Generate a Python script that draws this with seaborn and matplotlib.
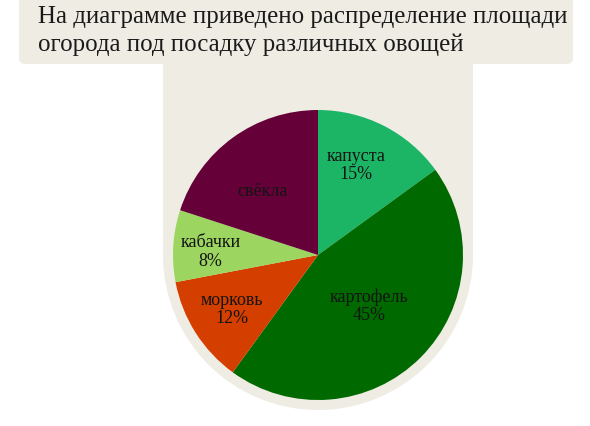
import matplotlib
matplotlib.use("Agg")
import matplotlib.pyplot as plt
import seaborn as sns
import numpy as np
from matplotlib.patches import Rectangle, Circle, FancyBboxPatch

# ---- data ----
categories = ["капуста", "картофель", "морковь", "кабачки", "свёкла"]
shares = [15, 45, 12, 8, 20]
show_pct = [True, True, True, True, False]
colors = ["#1CB566", "#006A00", "#D43F00", "#9CD660", "#660038"]
title_lines = ["На диаграмме приведено распределение площади",
               "огорода под посадку различных овощей"]

sns.set_style("white")
plt.rcParams["font.family"] = ["Liberation Serif", "DejaVu Serif"]

W, H = 590, 426
fig = plt.figure(figsize=(W / 100, H / 100), dpi=100)
fig.patch.set_facecolor("white")

# background decorative shape (pixel coordinates)
bg = fig.add_axes([0, 0, 1, 1])
bg.set_xlim(0, W)
bg.set_ylim(H, 0)
bg.axis("off")
beige = "#EFECE4"
bg.add_patch(FancyBboxPatch((19, -20), 554, 84, boxstyle="round,pad=0,rounding_size=6",
                            facecolor=beige, edgecolor="none"))
bg.add_patch(Rectangle((163, 55), 310, 200, facecolor=beige, edgecolor="none"))
bg.add_patch(Circle((318, 255), 155, facecolor=beige, edgecolor="none"))

for i, line in enumerate(title_lines):
    bg.text(38, 23 + i * 28, line, fontsize=17.9, color="#1a1a1a",
            ha="left", va="baseline")

# pie
cx, cy, r = 318, 255, 145
ax = fig.add_axes([(cx - r) / W, (H - cy - r) / H, 2 * r / W, 2 * r / H])
wedges, _ = ax.pie(shares, colors=colors, startangle=90, counterclock=False,
                   radius=1, wedgeprops=dict(linewidth=0))
ax.set_xlim(-1, 1)
ax.set_ylim(-1, 1)
ax.set_aspect("equal")
ax.axis("off")

label_dist = [0.67, 0.50, 0.70, 0.74, 0.58]
label_shift = [4, 0, 0, 2, 5]
for w, name, pct, show, d, sh in zip(wedges, categories, shares, show_pct,
                                      label_dist, label_shift):
    ang = np.deg2rad((w.theta1 + w.theta2) / 2 + sh)
    x, y = d * np.cos(ang), d * np.sin(ang)
    txt = f"{name}\n{pct}%" if show else name
    ax.text(x, y, txt, ha="center", va="center", fontsize=13,
            color="#141414", linespacing=1.1)

fig.savefig("out.png", dpi=100)
